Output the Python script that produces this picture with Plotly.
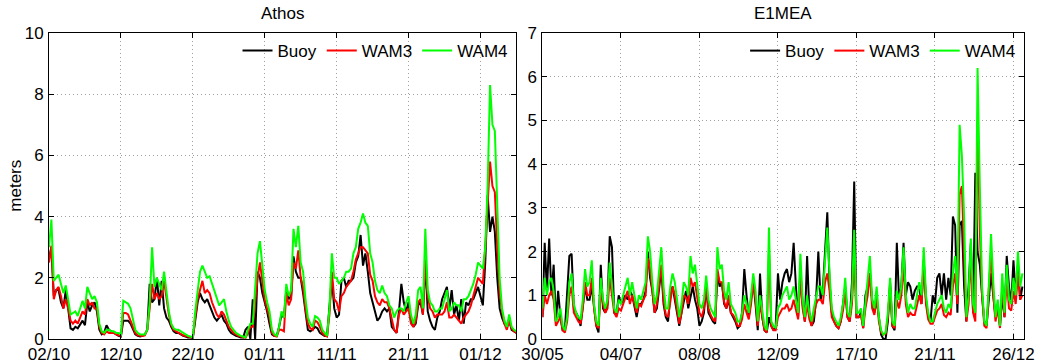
import pandas as pd
import plotly.graph_objects as go

# ---------------- Athos buoy: significant wave height (m), 8-hourly from 02/10 ----------------
athos_buoy = [
    2.6, 3.0, 1.4,  1.6, 1.6, 1.2,  1.0, 1.6, 1.0,  0.35, 0.3, 0.4,  0.35, 0.5, 0.6,
    0.45, 1.2, 0.9,  1.1, 1.2, 0.9,  0.3, 0.15, 0.2,  0.45, 0.3, 0.25,  0.2, 0.15, 0.1,
    0.08, 0.6, 0.6,  0.6, 0.5, 0.3,  0.15, 0.1, 0.08,  0.1, 0.15, 0.3,  1.8, 1.2, 1.3,
    2.0, 1.1, 1.9,  1.0, 0.7, 0.6,  0.4, 0.25, 0.2,  0.2, 0.15, 0.1,  0.08, 0.05, 0.05,
    0.03, 0.6, 1.2,  1.5, 1.3, 1.2,  1.3, 1.1, 0.9,  0.7, 0.6, 0.7,  0.8, 0.6, 0.5,
    0.3, 0.2, 0.15,  0.1, 0.08, 0.05,  0.05, 0.3, 0.4,  0.0, 1.3, 0.0,  2.2, 2.0, 1.5,
    1.2, 0.9, 0.5,  0.15, 0.1, 0.1,  0.4, 0.8, 0.7,  1.6, 1.3, 1.4,  2.7, 2.2, 2.0,
    2.0, 1.5, 0.8,  0.3, 0.25, 0.3,  0.4, 0.35, 0.2,  0.15, 0.1, 0.1,  1.0, 2.0, 1.0,
    0.7, 0.8, 1.9,  2.0, 1.7, 1.9,  1.9, 2.0, 2.5,  2.7, 3.4, 2.4,  2.8, 2.2, 1.5,
    1.2, 0.9, 0.6,  0.7, 0.9, 1.0,  0.9, 1.0, 0.4,  0.3, 0.2, 0.9,  1.8, 1.2, 0.9,
    1.2, 0.6, 0.4,  0.5, 1.1, 1.2,  0.8, 2.5, 0.9,  0.6, 0.4, 0.3,  0.7, 0.9, 1.3,
    1.5, 1.7, 1.0,  1.6, 0.8, 1.1,  0.6, 1.3, 0.5,  1.2, 1.1, 1.3,  1.3, 1.5, 1.7,
    1.4, 1.1, 2.5,  4.7, 3.5, 4.0,  3.5, 2.0, 1.0,  0.7, 0.5, 0.4,  0.6, 0.3, 0.25,
    0.2,
]
athos_wam3 = [
    2.5, 3.05, 1.3,  1.6, 1.7, 1.4,  1.0, 1.3, 1.0,  0.6, 0.5, 0.6,  0.5, 0.7, 0.9,
    0.8, 1.3, 1.1,  1.2, 1.0, 1.0,  0.4, 0.2, 0.15,  0.25, 0.2, 0.2,  0.2, 0.15, 0.12,
    0.1, 0.85, 0.85,  0.8, 0.6, 0.4,  0.2, 0.12, 0.1,  0.1, 0.12, 0.3,  1.0, 1.8, 1.3,
    1.5, 1.3, 1.4,  1.9, 1.3, 0.8,  0.45, 0.3, 0.25,  0.2, 0.15, 0.12,  0.1, 0.08, 0.05,
    0.04, 0.7, 1.3,  1.6, 1.9, 1.5,  1.6, 1.5, 1.2,  1.0, 0.8, 0.7,  0.9, 0.8, 0.6,
    0.4, 0.3, 0.2,  0.15, 0.1, 0.08,  0.05, 0.04, 0.2,  0.4, 0.4, 1.2,  2.0, 2.5, 1.8,
    1.3, 1.0, 0.7,  0.2, 0.1, 0.08,  0.3, 0.3, 0.25,  1.5, 1.1, 1.3,  2.5, 2.3, 2.9,
    2.0, 1.7, 1.0,  0.5, 0.35, 0.3,  0.6, 0.55, 0.4,  0.2, 0.12, 0.08,  0.8, 2.2, 1.3,
    1.2, 0.9, 1.4,  1.5, 1.7, 1.8,  1.9, 2.2, 2.6,  2.8, 3.0, 3.0,  2.9, 2.8, 2.1,
    1.9, 1.4, 1.2,  1.1, 1.3, 1.2,  1.2, 1.0, 0.6,  0.3, 0.2, 0.8,  1.0, 0.8, 0.9,
    1.0, 0.5, 0.4,  0.6, 1.2, 1.3,  0.8, 2.6, 1.4,  1.0, 0.9, 0.7,  0.8, 0.8, 0.8,
    0.9, 1.2, 0.7,  0.7, 0.8, 0.7,  0.6, 0.5, 0.7,  0.8, 0.9, 1.1,  1.4, 1.7, 2.0,
    1.9, 1.8, 3.0,  4.5, 5.8, 5.0,  4.8, 3.0, 1.5,  0.9, 0.5, 0.3,  0.6, 0.35, 0.25,
    0.2,
]
athos_wam4 = [
    3.0, 3.9, 1.9,  2.0, 2.1, 1.8,  1.5, 1.75, 1.2,  0.8, 0.85, 0.9,  0.75, 1.0, 1.25,
    1.0, 1.7, 1.5,  1.3, 1.4, 1.2,  0.5, 0.25, 0.2,  0.3, 0.3, 0.25,  0.25, 0.2, 0.2,
    0.15, 1.25, 1.2,  1.15, 1.0, 0.6,  0.3, 0.2, 0.15,  0.15, 0.15, 0.3,  1.2, 3.0, 1.7,
    2.0, 1.8, 1.6,  2.2, 1.6, 0.9,  0.5, 0.35, 0.3,  0.3, 0.25, 0.2,  0.15, 0.1, 0.08,
    0.05, 0.9, 1.6,  2.2, 2.4, 2.2,  2.0, 2.05, 1.8,  1.6, 1.3, 1.1,  1.2, 1.3, 0.9,
    0.6, 0.4, 0.3,  0.2, 0.15, 0.1,  0.08, 0.05, 0.3,  0.5, 0.5, 1.5,  2.8, 3.2, 2.5,
    1.6, 1.2, 0.9,  0.3, 0.15, 0.1,  0.4, 0.9, 0.7,  1.8, 1.4, 1.6,  3.6, 3.0, 3.7,
    2.5, 2.2, 1.3,  0.7, 0.5, 0.4,  0.75, 0.7, 0.6,  0.3, 0.2, 0.1,  1.0, 2.8, 2.0,
    2.0, 1.8, 1.9,  2.0, 2.2, 2.2,  2.3, 2.8, 3.0,  3.6, 3.8, 4.1,  3.8, 3.7, 2.8,
    2.5, 1.9, 1.6,  1.5, 1.75, 1.5,  1.4, 1.1, 1.0,  0.7, 0.9, 1.0,  1.0, 0.9, 1.2,
    1.4, 0.8, 0.5,  0.8, 1.6, 1.7,  1.0, 3.6, 1.6,  1.2, 1.1, 0.9,  0.9, 1.0, 1.0,
    1.3, 1.6, 0.9,  1.0, 1.2, 1.1,  1.1, 0.9, 1.3,  1.3, 1.4, 1.6,  1.8, 2.1, 2.5,
    2.4, 2.3, 3.0,  5.0, 8.3, 7.0,  6.8, 4.0, 2.0,  1.0, 0.6, 0.4,  0.8, 0.4, 0.3,
    0.25,
]

# ---------------- E1MEA buoy: daily significant wave height (m) from 30/05 ----------------
e1mea_buoy = [
    0.5, 2.2, 1.1, 2.3, 1.0, 1.7, 0.4, 1.1, 0.5, 0.2,
    0.2, 1.1, 1.9, 1.95, 0.7, 0.6, 0.5, 0.3, 0.8, 1.2,
    0.9, 0.9, 1.2, 0.7, 0.3, 0.15, 1.7, 0.7, 0.6, 0.8,
    2.35, 2.1, 0.6, 0.55, 1.0, 0.8, 0.9, 1.0, 0.9, 1.1,
    1.0, 0.7, 0.5, 0.8, 0.8, 0.9, 1.1, 2.0, 1.4, 1.1,
    0.6, 0.7, 1.2, 1.6, 0.8, 0.5, 0.4, 1.0, 1.2, 0.9,
    0.6, 0.3, 0.6, 0.9, 1.1, 0.7, 1.0, 1.2, 0.9, 0.7,
    0.3, 0.4, 0.6, 1.2, 0.6, 0.5, 0.4, 0.35, 1.5, 1.2,
    1.3, 0.8, 0.7, 0.9, 0.6, 0.5, 0.4, 0.25, 0.3, 0.6,
    1.6, 1.0, 0.5, 0.9, 1.3, 0.8, 0.2, 1.5, 0.5, 0.2,
    0.15, 0.5, 0.3, 0.2, 0.3, 1.5, 0.9, 1.3, 1.5, 1.6,
    1.3, 1.5, 2.2, 1.2, 0.5, 1.6, 0.8, 0.4, 1.9, 0.6,
    0.3, 0.4, 0.9, 2.0, 0.9, 1.1, 2.0, 2.9, 1.3, 0.6,
    0.4, 0.3, 0.25, 0.4, 0.8, 1.2, 0.5, 0.4, 1.3, 3.6,
    0.5, 0.5, 0.6, 0.25, 1.0, 1.2, 1.5, 0.9, 0.6, 0.9,
    0.5, 0.1, 0.0, 0.0, 0.4, 1.3, 0.3, 0.2, 2.2, 0.9,
    1.2, 2.2, 1.0, 1.3, 1.2, 0.9, 1.1, 1.2, 1.2, 0.8,
    1.8, 0.9, 0.5, 0.4, 1.0, 0.8, 1.4, 1.5, 1.0, 1.5,
    0.9, 1.4, 1.0, 2.8, 2.6, 0.6, 2.6, 2.7, 1.2, 0.4,
    1.2, 2.2, 0.6, 3.8, 2.0, 1.7, 1.0, 0.4, 0.3, 0.9,
    1.5, 1.0, 0.5, 0.8, 0.3, 1.0, 0.5, 1.9, 1.2, 0.8,
    1.8, 1.0, 1.7, 0.9, 1.2,
]
e1mea_wam3 = [
    0.5, 1.0, 0.8, 1.0, 1.1, 0.9, 0.3, 0.4, 0.5, 0.2,
    0.15, 0.4, 1.0, 1.2, 0.6, 0.5, 0.4, 0.35, 0.7, 1.3,
    1.0, 1.0, 1.4, 0.7, 0.3, 0.25, 1.1, 0.8, 0.6, 0.7,
    1.4, 1.0, 0.6, 0.5, 0.7, 0.65, 0.8, 0.9, 1.1, 0.8,
    1.0, 0.8, 0.6, 0.8, 0.75, 0.9, 1.0, 1.85, 1.6, 1.1,
    0.6, 0.8, 1.2, 1.7, 0.9, 0.55, 0.5, 0.9, 1.2, 1.0,
    0.7, 0.35, 0.6, 1.0, 0.95, 0.8, 1.4, 1.2, 1.3, 0.9,
    0.6, 0.5, 0.7, 1.2, 0.7, 0.55, 0.45, 0.4, 1.6, 1.3,
    1.3, 0.85, 0.7, 1.0, 0.6, 0.55, 0.45, 0.3, 0.3, 0.45,
    0.8, 0.6, 0.45, 0.8, 1.3, 0.9, 0.3, 0.8, 0.45, 0.2,
    0.15, 2.0, 0.3, 0.2, 0.2, 0.5, 0.6, 0.7, 0.7, 0.8,
    0.65, 0.7, 0.9, 0.7, 0.45, 1.4, 0.7, 0.4, 0.8, 0.45,
    0.3, 0.55, 0.8, 0.9, 0.9, 0.8, 1.3, 1.5, 1.1, 0.5,
    0.4, 0.3, 0.25, 0.4, 0.65, 1.1, 0.5, 0.4, 0.8, 1.8,
    0.5, 0.5, 0.55, 0.25, 0.7, 1.0, 1.5, 0.7, 0.55, 1.0,
    0.4, 0.15, 0.1, 0.12, 0.5, 1.2, 0.3, 0.25, 0.9, 0.7,
    1.0, 1.7, 0.8, 0.5, 0.6, 0.55, 0.55, 0.8, 1.0, 0.8,
    1.7, 0.8, 0.45, 0.35, 0.35, 0.5, 0.65, 0.7, 0.8, 0.55,
    0.5, 0.6, 0.55, 1.2, 1.5, 0.8, 3.3, 3.5, 2.0, 0.4,
    0.8, 1.9, 0.6, 0.4, 5.0, 2.5, 1.0, 0.3, 0.25, 1.0,
    2.0, 1.0, 0.4, 0.7, 0.25, 1.2, 0.5, 1.4, 0.7, 0.65,
    1.1, 0.8, 1.5, 0.9, 1.0,
]
e1mea_wam4 = [
    0.7, 1.4, 1.0, 1.3, 1.4, 1.1, 0.4, 0.5, 0.7, 0.3,
    0.2, 0.5, 1.3, 1.5, 0.8, 0.6, 0.5, 0.45, 0.9, 1.6,
    1.2, 1.3, 1.8, 0.8, 0.4, 0.3, 1.4, 0.9, 0.7, 0.9,
    1.75, 1.2, 0.7, 0.6, 0.9, 0.8, 1.0, 1.2, 1.4, 1.0,
    1.3, 1.0, 0.7, 1.0, 0.9, 1.1, 1.3, 2.35, 2.0, 1.3,
    0.8, 1.0, 1.5, 2.1, 1.2, 0.7, 0.7, 1.2, 1.5, 1.3,
    0.9, 0.5, 0.8, 1.3, 1.2, 1.0, 1.9, 1.5, 1.7, 1.2,
    0.8, 0.7, 0.9, 1.45, 0.9, 0.7, 0.6, 0.5, 2.1, 1.6,
    1.7, 1.1, 0.9, 1.3, 0.8, 0.7, 0.6, 0.4, 0.4, 0.6,
    1.0, 0.8, 0.6, 1.0, 1.5, 1.1, 0.4, 1.0, 0.6, 0.3,
    0.2, 2.55, 0.4, 0.3, 0.25, 0.7, 0.8, 1.0, 1.1, 1.2,
    0.9, 1.0, 1.2, 0.9, 0.6, 1.95, 0.9, 0.5, 1.0, 0.6,
    0.4, 0.7, 1.0, 1.2, 1.2, 1.0, 1.8, 2.55, 1.5, 0.7,
    0.5, 0.4, 0.3, 0.5, 0.8, 1.4, 0.6, 0.5, 1.0, 2.5,
    0.6, 0.6, 0.7, 0.3, 0.9, 1.3, 1.9, 0.9, 0.7, 1.2,
    0.5, 0.2, 0.1, 0.15, 0.6, 1.4, 0.4, 0.3, 1.1, 0.9,
    1.2, 2.1, 1.0, 0.6, 0.8, 0.7, 0.7, 1.0, 1.3, 1.0,
    2.1, 1.0, 0.6, 0.4, 0.4, 0.6, 0.8, 0.9, 1.0, 0.7,
    0.6, 0.8, 0.7, 1.5, 1.9, 1.0, 4.9, 4.2, 2.8, 0.5,
    1.0, 2.3, 0.8, 0.6, 6.2, 3.5, 1.2, 0.4, 0.3, 1.2,
    2.4, 1.3, 0.5, 0.9, 0.3, 1.5, 0.6, 1.7, 0.9, 0.8,
    1.4, 1.0, 2.0, 1.2, 1.5,
]

series_names = ["Buoy", "WAM3", "WAM4"]
series_colors = ["#000000", "#ff0000", "#00ff00"]

athos_time = pd.date_range("2010-10-02", periods=len(athos_wam4), freq="8h")
e1mea_time = pd.date_range("2010-05-30", periods=len(e1mea_wam4), freq="D")

FONT = "Liberation Sans, Arial, Helvetica, sans-serif"
FS = 17
DAY_MS = 86400000

fig = go.Figure()

for name, color, values in zip(series_names, series_colors,
                               [athos_buoy, athos_wam3, athos_wam4]):
    fig.add_trace(go.Scatter(x=athos_time, y=values, mode="lines", name=name,
                             line=dict(color=color, width=2),
                             xaxis="x", yaxis="y", legend="legend"))

for name, color, values in zip(series_names, series_colors,
                               [e1mea_buoy, e1mea_wam3, e1mea_wam4]):
    fig.add_trace(go.Scatter(x=e1mea_time, y=values, mode="lines", name=name,
                             line=dict(color=color, width=2),
                             xaxis="x2", yaxis="y2", legend="legend2"))

axis_style = dict(
    showline=True, linecolor="black", linewidth=1, mirror="ticks",
    ticks="inside", ticklen=5, tickcolor="black", automargin=False,
    showgrid=True, gridcolor="#a0a0a0", gridwidth=1, griddash="1px,3px",
    zeroline=False, tickfont=dict(family=FONT, size=FS, color="black"),
)

left_dom = [0.0, 0.4794]
right_dom = [0.5061, 1.0]

legend_style = dict(orientation="h", xanchor="right", y=0.941, yanchor="middle",
                    bgcolor="rgba(0,0,0,0)", itemwidth=30, tracegroupgap=0,
                    font=dict(family=FONT, size=FS, color="black"))

fig.update_layout(
    width=1039, height=364,
    margin=dict(l=49, r=15, t=33, b=25, autoexpand=False),
    paper_bgcolor="white", plot_bgcolor="white",
    font=dict(family=FONT, size=FS, color="black"),
    xaxis=dict(domain=left_dom, anchor="y", type="date",
               range=[athos_time[0], athos_time[0] + pd.Timedelta(days=65)],
               tick0="2010-10-02", dtick=10 * DAY_MS, tickformat="%d/%m",
               **axis_style),
    yaxis=dict(domain=[0, 1], anchor="x", range=[0, 10], dtick=2,
               ticklabelstandoff=1, **axis_style),
    xaxis2=dict(domain=right_dom, anchor="y2", type="date",
                range=[e1mea_time[0], e1mea_time[0] + pd.Timedelta(days=214.7)],
                tick0="2010-05-30", dtick=35 * DAY_MS, tickformat="%d/%m",
                **axis_style),
    yaxis2=dict(domain=[0, 1], anchor="x2", range=[0, 7], dtick=1,
                ticklabelstandoff=1, **axis_style),
    legend=dict(x=left_dom[1] - 0.004, **legend_style),
    legend2=dict(x=right_dom[1] - 0.004, **legend_style),
    annotations=[
        dict(text="Athos", x=sum(left_dom) / 2, y=1, xref="paper", yref="paper",
             xanchor="center", yanchor="bottom", yshift=8, showarrow=False,
             font=dict(family=FONT, size=FS, color="black")),
        dict(text="E1MEA", x=sum(right_dom) / 2, y=1, xref="paper", yref="paper",
             xanchor="center", yanchor="bottom", yshift=8, showarrow=False,
             font=dict(family=FONT, size=FS, color="black")),
        dict(text="meters", x=-0.0352, y=0.5, xref="paper", yref="paper",
             xanchor="center", yanchor="middle", textangle=-90, showarrow=False,
             font=dict(family=FONT, size=FS, color="black")),
    ],
)

fig.write_html("out.html")
